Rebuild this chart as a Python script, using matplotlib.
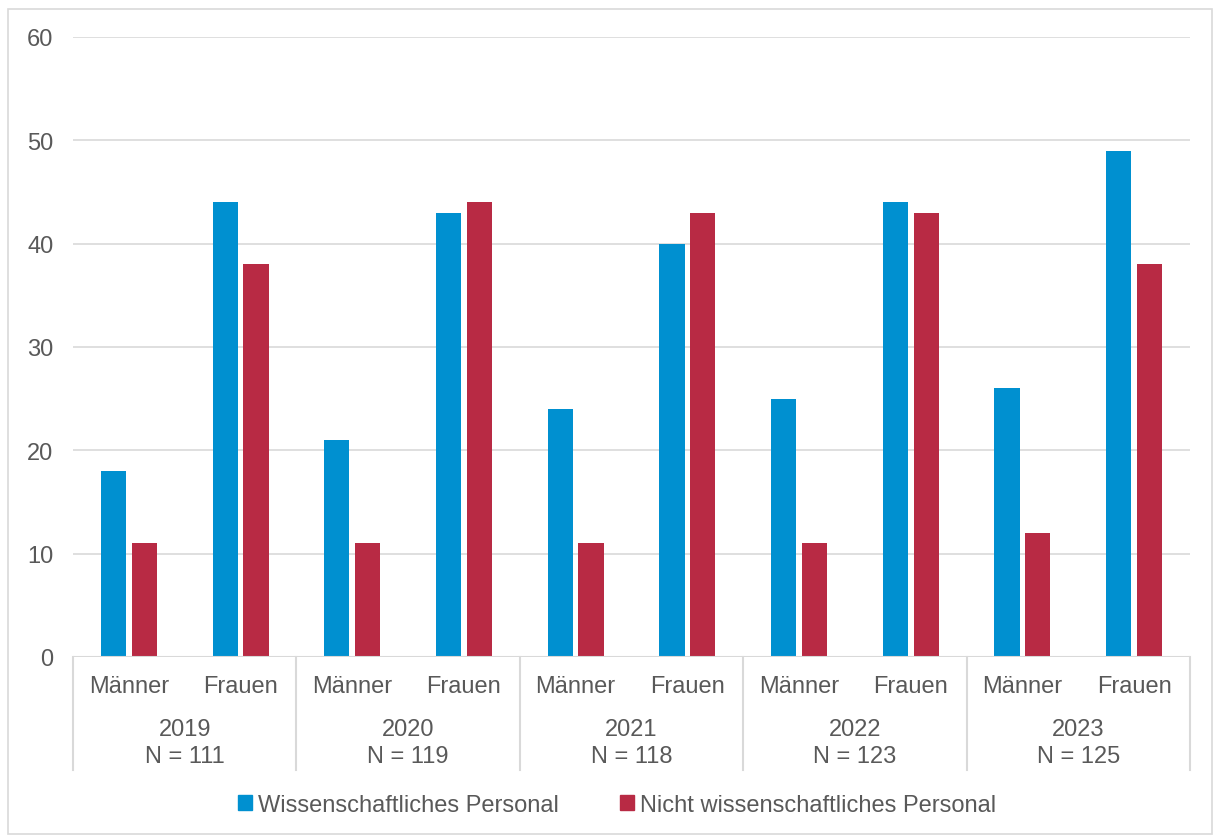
import matplotlib
matplotlib.use("Agg")
import matplotlib.pyplot as plt
from matplotlib.transforms import blended_transform_factory
from matplotlib.lines import Line2D
from matplotlib.patches import Rectangle
import numpy as np

years = ["2019", "2020", "2021", "2022", "2023"]
n_labels = ["N = 111", "N = 119", "N = 118", "N = 123", "N = 125"]
genders = ["Männer", "Frauen"]
series_names = ["Wissenschaftliches Personal", "Nicht wissenschaftliches Personal"]
wiss = [18, 44, 21, 43, 24, 40, 25, 44, 26, 49]
nicht_wiss = [11, 38, 11, 44, 11, 43, 11, 43, 12, 38]
yticks = [0, 10, 20, 30, 40, 50, 60]

blue = "#0090D0"
red = "#B82A44"
txt = "#595959"
grid = "#D9D9D9"

plt.rcParams['font.family'] = ['Liberation Sans', 'DejaVu Sans']

W, H = 1214, 837
fig = plt.figure(figsize=(W / 100, H / 100), dpi=100)
fig.patches.append(Rectangle((8 / W, 1 - 835 / H), (1212 - 8) / W, (835 - 10) / H,
                             transform=fig.transFigure, fill=False, edgecolor=grid, lw=1.2))

ax = fig.add_axes([73 / W, 1 - 658 / H, (1190 - 73) / W, (658 - 38) / H])
x = np.arange(len(wiss)) + 0.5
bw = 0.225
off = 0.138
ax.bar(x - off, wiss, bw, color=blue, zorder=3, label=series_names[0])
ax.bar(x + off, nicht_wiss, bw, color=red, zorder=3, label=series_names[1])

ax.set_xlim(0, len(wiss))
ax.set_ylim(0, 60)
ax.set_yticks(yticks)
ax.set_yticklabels([str(t) for t in yticks], fontsize=17, color=txt)
ax.tick_params(axis='y', length=0, pad=14)
ax.set_xticks([])
for s in ax.spines.values():
    s.set_visible(False)
ax.grid(axis='y', color=grid, lw=1.2, zorder=0)
ax.axhline(0, color=grid, lw=1.5, zorder=4)

tr = blended_transform_factory(ax.transData, ax.transAxes)
ph = 658 - 38
def ay(py):
    return (658 - py) / ph

for i, xi in enumerate(x):
    ax.text(xi, ay(687), genders[i % 2], transform=tr, ha='center', va='center',
            fontsize=17, color=txt)
for j in range(len(years)):
    cx = 2 * j + 1
    ax.text(cx, ay(730), years[j], transform=tr, ha='center', va='center', fontsize=17, color=txt)
    ax.text(cx, ay(757), n_labels[j], transform=tr, ha='center', va='center', fontsize=17, color=txt)
for k in range(len(years) + 1):
    ax.add_line(Line2D([2 * k, 2 * k], [0, ay(771)], transform=tr, color=grid, lw=1.5, clip_on=False))

leg = fig.legend(handles=[Rectangle((0, 0), 1, 1, color=blue), Rectangle((0, 0), 1, 1, color=red)],
                 labels=series_names, loc='center', bbox_to_anchor=(617 / W, 1 - 806 / H),
                 ncol=2, frameon=False, fontsize=17, handlelength=0.6, handleheight=0.6,
                 handletextpad=0.25, columnspacing=2.6, labelcolor=txt)

fig.savefig("out.png", dpi=100)
